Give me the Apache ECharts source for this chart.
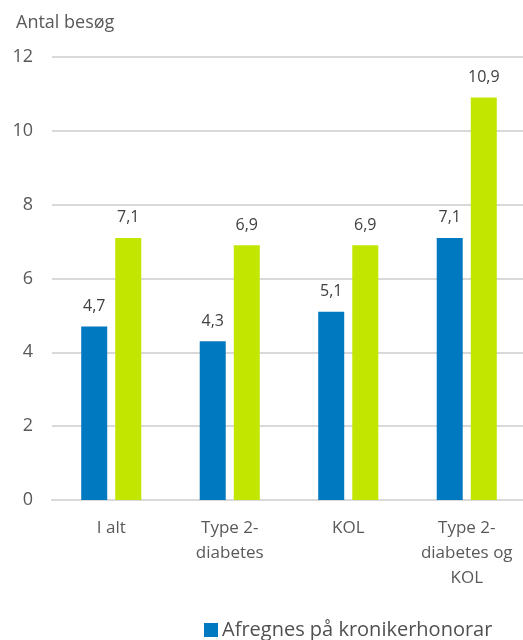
<!DOCTYPE html>
<html>
<head>
<meta charset="utf-8">
<script src="https://cdn.jsdelivr.net/npm/echarts@6/dist/echarts.min.js"></script>
<style>
  html, body { margin: 0; padding: 0; background: #fff; }
  #chart { width: 523px; height: 640px; }
</style>
</head>
<body>
<div id="chart"></div>
<script>
const categories = ["I alt", "Type 2-\ndiabetes", "KOL", "Type 2-\ndiabetes og\nKOL"];
const kronikerValues = [4.7, 4.3, 5.1, 7.1];
const andreValues = [7.1, 6.9, 6.9, 10.9];
const seriesNames = ["Afregnes på kronikerhonorar", "Afregnes ikke på kronikerhonorar"];

const chart = echarts.init(document.getElementById("chart"));
const textColor = "#595959";
const font = "Open Sans";

// 数值标签用逗号作小数点
function fmt(p) {
  return p.value.toFixed(1).replace(".", ",");
}

chart.setOption({
  animation: false,
  textStyle: { fontFamily: font },
  title: {
    text: "Antal besøg",
    left: 11,
    top: 9,
    textStyle: { fontSize: 18, fontWeight: "normal", color: textColor, fontFamily: font }
  },
  legend: {
    data: [seriesNames[0]],
    left: 199,
    top: 615,
    itemWidth: 14,
    itemHeight: 14,
    itemGap: 6,
    icon: "rect",
    textStyle: { fontSize: 20, color: "#505050", fontFamily: font, padding: [0, 0, 0, -1] }
  },
  grid: { left: 52, top: 57, width: 474, height: 443, outerBoundsMode: "none" },
  xAxis: {
    type: "category",
    data: categories,
    axisLine: { lineStyle: { color: "#d9d9d9", width: 2 } },
    axisTick: { show: false },
    axisLabel: { color: textColor, fontSize: 17, lineHeight: 25, margin: 16, interval: 0 }
  },
  yAxis: {
    type: "value",
    min: 0,
    max: 12,
    interval: 2,
    axisLine: { show: false },
    axisTick: { show: false },
    axisLabel: { color: textColor, fontSize: 18, margin: 19 },
    splitLine: { lineStyle: { color: "#d9d9d9", width: 2 } }
  },
  series: [
    {
      name: seriesNames[0],
      type: "bar",
      data: kronikerValues,
      barWidth: 26,
      barGap: "31%",
      itemStyle: { color: "#0079c1" },
      label: { show: true, position: "top", distance: 12, color: "#404040", fontSize: 16, formatter: fmt }
    },
    {
      name: seriesNames[1],
      type: "bar",
      data: andreValues,
      barWidth: 26,
      itemStyle: { color: "#c2e600" },
      label: { show: true, position: "top", distance: 12, color: "#404040", fontSize: 16, formatter: fmt }
    }
  ]
});
</script>
</body>
</html>
